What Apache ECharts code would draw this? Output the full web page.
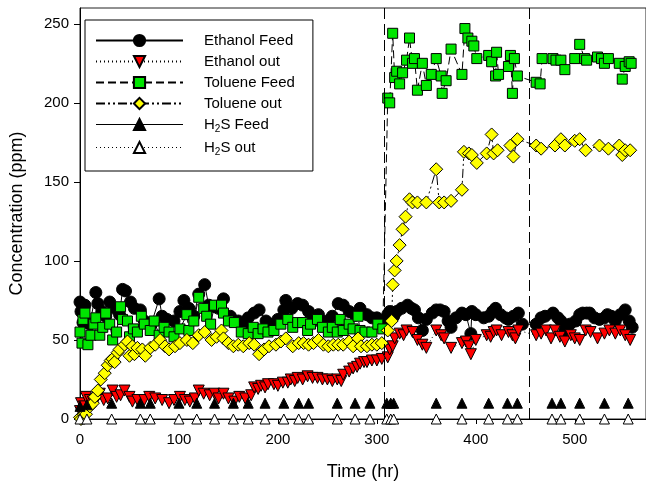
<!DOCTYPE html>
<html>
<head>
<meta charset="utf-8">
<script src="https://cdn.jsdelivr.net/npm/echarts@6/dist/echarts.min.js"></script>
<style>
  html, body { margin: 0; padding: 0; background: #fff; }
  #chart { width: 646px; height: 486px; }
</style>
</head>
<body>
<div id="chart"></div>
<script>
// [time (hr), concentration (ppm)]
const ethanolFeed = [
  [0, 74], [1, 68], [3, 61], [5, 72], [10, 60], [16, 80], [18, 73], [22, 68], [26, 65], [30, 74],
  [35, 70], [40, 66], [43, 82], [46, 81], [51, 74], [55, 70], [61, 69], [65, 62], [72, 60], [80, 76],
  [83, 65], [88, 63], [95, 62], [101, 68], [105, 75], [110, 70], [115, 65], [120, 79], [126, 85], [130, 72],
  [136, 71], [140, 70], [145, 76], [152, 65], [160, 62], [165, 60], [170, 64], [176, 67], [181, 69], [188, 62],
  [195, 60], [200, 63], [206, 69], [208, 75], [214, 70], [220, 73], [225, 72], [231, 68], [236, 64], [241, 66],
  [245, 60], [250, 62], [255, 65], [261, 73], [266, 72], [272, 68], [278, 66], [283, 70], [290, 66], [295, 64],
  [300, 64], [306, 62], [311, 66], [313, 68], [317, 65], [320, 68], [325, 70], [331, 72], [335, 70], [338, 69],
  [342, 64], [346, 56], [350, 63], [356, 67], [360, 69], [364, 69], [368, 68], [372, 62], [375, 58], [380, 64],
  [386, 67], [390, 66], [395, 54], [396, 68], [400, 66], [408, 64], [413, 65], [417, 68], [420, 70], [425, 66],
  [430, 64], [433, 63], [438, 65], [443, 67], [447, 60], [461, 60], [466, 64], [470, 65], [478, 67], [483, 64],
  [486, 62], [490, 56], [495, 60], [501, 62], [505, 66], [508, 67], [512, 67], [515, 67], [520, 64], [525, 63],
  [530, 64], [533, 66], [537, 65], [541, 62], [546, 66], [551, 69], [555, 62], [558, 58]
];
const ethanolOut = [
  [0, 5], [1, 10], [4, 8], [6, 14], [10, 12], [13, 11], [17, 13], [20, 16], [24, 12], [28, 13],
  [33, 18], [37, 14], [41, 15], [45, 18], [50, 14], [53, 11], [58, 12], [65, 12], [70, 14], [76, 13],
  [83, 12], [90, 10], [95, 12], [101, 14], [106, 12], [111, 11], [116, 13], [120, 18], [125, 16], [131, 15],
  [136, 16], [140, 13], [145, 16], [150, 13], [156, 11], [161, 14], [167, 13], [173, 15], [176, 20], [180, 19],
  [183, 21], [187, 20], [190, 22], [196, 22], [200, 21], [205, 23], [210, 23], [213, 25], [217, 24], [220, 26],
  [225, 25], [230, 27], [235, 26], [240, 26], [245, 25], [250, 25], [255, 24], [260, 25], [264, 24], [266, 28],
  [272, 30], [276, 32], [280, 33], [283, 35], [287, 36], [290, 36], [295, 37], [300, 37], [305, 38], [311, 39],
  [313, 44], [316, 46], [318, 51], [323, 54], [327, 53], [330, 56], [336, 55], [341, 50], [346, 47], [350, 45],
  [360, 56], [365, 53], [368, 51], [375, 45], [386, 48], [390, 49], [393, 46], [395, 41], [400, 50], [411, 53],
  [415, 52], [418, 55], [421, 56], [426, 53], [433, 55], [437, 53], [440, 51], [443, 56], [461, 53], [466, 54],
  [471, 56], [476, 51], [480, 56], [485, 52], [490, 49], [496, 53], [500, 51], [505, 50], [511, 56], [516, 55],
  [523, 51], [530, 54], [535, 56], [541, 54], [546, 56], [551, 53], [556, 50]
];
const tolueneFeed = [
  [0, 55], [2, 48], [3, 63], [5, 67], [8, 47], [11, 53], [14, 60], [16, 64], [20, 53], [23, 58],
  [26, 67], [30, 60], [33, 50], [37, 55], [41, 71], [43, 63], [48, 62], [50, 52], [54, 57], [58, 55],
  [62, 65], [65, 60], [71, 56], [75, 62], [80, 53], [85, 58], [90, 55], [95, 52], [101, 57], [108, 66],
  [110, 56], [115, 62], [120, 77], [125, 70], [128, 65], [132, 60], [136, 72], [143, 72], [145, 67], [150, 62],
  [156, 61], [163, 55], [170, 54], [175, 58], [180, 54], [185, 57], [190, 55], [196, 56], [203, 60], [210, 63],
  [215, 58], [220, 61], [225, 61], [230, 56], [233, 60], [240, 63], [245, 58], [251, 55], [255, 58], [260, 55],
  [263, 63], [266, 56], [272, 60], [276, 57], [281, 65], [283, 56], [288, 55], [295, 55], [301, 60], [306, 57],
  [311, 203], [313, 200], [316, 244], [318, 216], [320, 220], [323, 212], [326, 219], [330, 227], [333, 241], [336, 225],
  [338, 228], [341, 208], [346, 225], [350, 211], [355, 218], [360, 228], [365, 217], [366, 206], [370, 214], [375, 234],
  [386, 218], [389, 247], [392, 241], [396, 239], [398, 236], [401, 228], [413, 230], [416, 226], [420, 217], [421, 232],
  [423, 218], [433, 223], [435, 230], [437, 206], [439, 228], [442, 217], [461, 213], [465, 212], [467, 228], [478, 228],
  [481, 227], [486, 227], [490, 221], [500, 228], [505, 237], [510, 228], [512, 227], [523, 229], [527, 228], [530, 225],
  [534, 228], [545, 225], [548, 215], [551, 223], [555, 226], [557, 225]
];
const tolueneOut = [
  [0, 1], [1, 0], [4, 3], [6, 3], [10, 8], [13, 10], [15, 14], [18, 18], [21, 25], [25, 29],
  [28, 34], [31, 37], [33, 38], [35, 36], [38, 42], [40, 44], [45, 47], [48, 49], [50, 40], [53, 46],
  [55, 41], [58, 45], [63, 44], [66, 40], [71, 45], [76, 47], [81, 50], [86, 46], [90, 44], [96, 46],
  [101, 48], [108, 50], [114, 48], [120, 53], [126, 55], [133, 50], [138, 52], [143, 56], [145, 51], [150, 48],
  [155, 46], [160, 47], [165, 46], [171, 48], [176, 47], [181, 41], [186, 44], [191, 46], [198, 47], [203, 49],
  [208, 51], [215, 46], [221, 48], [226, 48], [231, 47], [236, 48], [241, 50], [246, 47], [251, 46], [256, 47],
  [261, 47], [266, 47], [272, 49], [276, 46], [281, 51], [284, 46], [290, 46], [295, 47], [300, 47], [305, 48],
  [311, 56], [315, 62], [316, 85], [318, 94], [320, 100], [323, 110], [326, 120], [329, 128], [333, 139], [336, 137],
  [341, 137], [350, 137], [360, 158], [363, 137], [368, 137], [375, 138], [386, 145], [388, 169], [393, 168], [396, 167],
  [401, 162], [411, 168], [416, 180], [418, 168], [422, 170], [435, 173], [438, 166], [442, 177], [461, 173], [466, 171],
  [480, 173], [486, 177], [490, 173], [500, 176], [505, 177], [511, 170], [525, 173], [534, 171], [545, 173], [548, 167],
  [551, 170], [556, 170]
];
const h2sFeed = [
  [0, 8], [7, 9], [32, 10], [61, 10], [71, 10], [100, 10], [118, 10], [136, 10], [155, 10], [170, 10],
  [187, 10], [206, 10], [221, 10], [231, 10], [260, 10], [278, 10], [293, 10], [310, 10], [314, 10], [317, 10],
  [360, 10], [386, 10], [413, 10], [432, 10], [442, 10], [477, 10], [486, 10], [505, 10], [530, 10], [554, 10]
];
const h2sOut = [
  [0, 0], [7, 0], [32, 0], [61, 0], [71, 0], [100, 0], [118, 0], [136, 0], [155, 0], [170, 0],
  [187, 0], [206, 0], [221, 0], [231, 0], [260, 0], [278, 0], [293, 0], [310, 0], [314, 0], [317, 0],
  [360, 0], [386, 0], [413, 0], [432, 0], [442, 0], [477, 0], [486, 0], [505, 0], [530, 0], [554, 0]
];
const phaseChanges = [307, 454];

const FONT = 'Liberation Sans, Arial, sans-serif';
const chart = echarts.init(document.getElementById('chart'));

const border = { borderColor: '#000', borderWidth: 1 };

chart.setOption({
  animation: false,
  textStyle: { fontFamily: FONT, color: '#000' },
  grid: {
    left: 77, right: -3, top: 8, bottom: 67,
    show: true, borderColor: '#222', borderWidth: 1,
  },
  legend: {
    orient: 'vertical',
    left: 85,
    top: 20,
    padding: [13, 18, 14, 10],
    borderColor: '#000',
    borderWidth: 1,
    itemWidth: 87,
    itemHeight: 14,
    itemGap: 6,
    textStyle: {
      fontFamily: FONT, fontSize: 15, color: '#000',
      padding: [0, 0, 0, 16],
      rich: { sub: { fontFamily: FONT, fontSize: 10, padding: [9, 0, 0, 0] } },
    },
    formatter: name => name.replace('H2S', 'H{sub|2}S'),
    data: [
      'Ethanol Feed', 'Ethanol out', 'Toluene Feed', 'Toluene out',
      { name: 'H2S Feed', lineStyle: { opacity: 1, width: 1, type: 'solid', color: '#000' } },
      { name: 'H2S out', lineStyle: { opacity: 1, width: 1, type: [1, 3], color: '#000' } },
    ],
  },
  xAxis: {
    type: 'value',
    min: 0, max: 572, interval: 100,
    name: 'Time (hr)',
    nameLocation: 'middle',
    nameGap: 44,
    nameTextStyle: { fontFamily: FONT, fontSize: 18, color: '#000' },
    axisLine: { lineStyle: { color: '#000' } },
    axisTick: { inside: false, length: 5, lineStyle: { color: '#000' } },
    axisLabel: { fontFamily: FONT, fontSize: 15, color: '#000', margin: 13, showMaxLabel: false },
    splitLine: { show: false },
  },
  yAxis: {
    type: 'value',
    min: 0, max: 260, interval: 50,
    name: 'Concentration (ppm)',
    nameLocation: 'middle',
    nameGap: 54,
    nameTextStyle: { fontFamily: FONT, fontSize: 18, color: '#000' },
    axisLine: { show: true, lineStyle: { color: '#000' } },
    axisTick: { show: true, inside: false, length: 6, lineStyle: { color: '#000' } },
    axisLabel: { fontFamily: FONT, fontSize: 15, color: '#000', margin: 11, showMaxLabel: false },
    splitLine: { show: false },
  },
  series: [
    {
      name: 'Ethanol Feed', type: 'line', data: ethanolFeed,
      symbol: 'circle', symbolSize: 12,
      itemStyle: { color: '#000', ...border },
      lineStyle: { color: '#000', width: 1, type: 'solid' },
      markLine: {
        silent: true, symbol: 'none',
        label: { show: false },
        lineStyle: { color: '#000', width: 1, type: [11, 5] },
        data: phaseChanges.map(x => ({ xAxis: x })),
      },
    },
    {
      name: 'Ethanol out', type: 'line', data: ethanolOut,
      symbol: 'triangle', symbolRotate: 180, symbolSize: 11,
      itemStyle: { color: '#ff0000', ...border },
      lineStyle: { color: '#000', width: 1, type: [1, 3] },
    },
    {
      name: 'Toluene Feed', type: 'line', data: tolueneFeed,
      symbol: 'rect', symbolSize: 10,
      itemStyle: { color: '#00e600', ...border },
      lineStyle: { color: '#000', width: 1, type: [8, 4] },
    },
    {
      name: 'Toluene out', type: 'line', data: tolueneOut,
      symbol: 'diamond', symbolSize: 13,
      itemStyle: { color: '#ffff00', ...border },
      lineStyle: { color: '#000', width: 1, type: [9, 3, 2, 3, 2, 3] },
    },
    {
      name: 'H2S Feed', type: 'line', data: h2sFeed,
      symbol: 'triangle', symbolSize: 10,
      itemStyle: { color: '#000', ...border },
      lineStyle: { color: '#000', width: 1, opacity: 0 },
    },
    {
      name: 'H2S out', type: 'line', data: h2sOut,
      symbol: 'triangle', symbolSize: 10,
      itemStyle: { color: '#fff', ...border },
      lineStyle: { color: '#000', width: 1, opacity: 0 },
    },
    {
      name: 'h2sFeedDot', type: 'scatter', data: h2sFeed,
      symbol: 'circle', symbolSize: 2.5, symbolOffset: [0, 1],
      itemStyle: { color: '#fff' }, silent: true,
    },
    {
      name: 'h2sOutDot', type: 'scatter', data: h2sOut,
      symbol: 'circle', symbolSize: 2.5, symbolOffset: [0, 1],
      itemStyle: { color: '#000' }, silent: true,
    },
  ],
});
</script>
</body>
</html>
